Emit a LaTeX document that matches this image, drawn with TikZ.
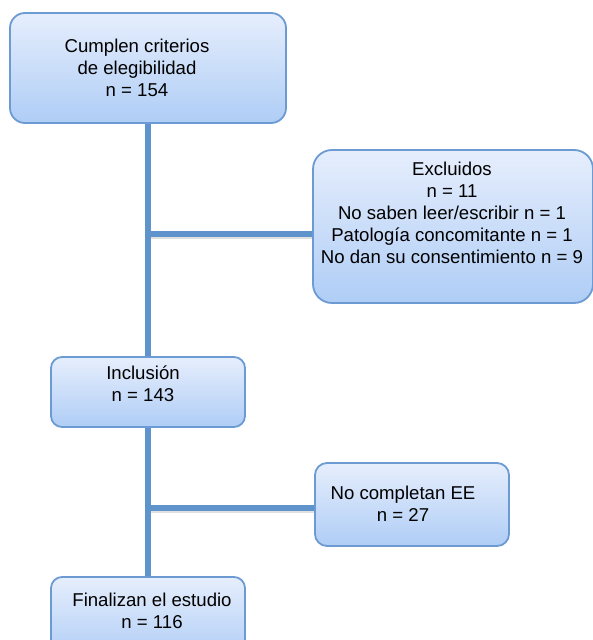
\documentclass[tikz,border=0pt]{standalone}
\usepackage{fontspec}
\setmainfont{Liberation Sans}
\definecolor{linec}{HTML}{5E93CC}
\definecolor{borderc}{HTML}{6B9BD2}
\definecolor{topc}{HTML}{E6EEFC}
\definecolor{botc}{HTML}{AFCDF6}
\begin{document}
\begin{tikzpicture}[x=1pt,y=-1pt,
  box/.style={draw=borderc, line width=1.8pt, rounded corners=12pt, top color=topc, bottom color=botc, inner sep=0pt},
  txt/.style={align=center, inner sep=0pt, font=\fontsize{18.6}{22}\selectfont},
  conn/.style={draw=linec, line width=5.5pt},
  shadowc/.style={draw=black!12, line width=3pt}]
\useasboundingbox (0,0) rectangle (593,640);
\clip (0,0) rectangle (593,640);
% boxes
\node[box, rounded corners=15pt, minimum width=276pt, minimum height=110pt] (b1) at (148,68) {};
\node[box, rounded corners=19pt, minimum width=280pt, minimum height=153pt] (b2) at (453,226.5) {};
\node[box, rounded corners=11pt, minimum width=194pt, minimum height=70pt] (b3) at (148,392) {};
\node[box, rounded corners=12pt, minimum width=194pt, minimum height=83pt] (b4) at (412,504.5) {};
\node[box, rounded corners=11pt, minimum width=194pt, minimum height=82pt] (b5) at (148,618) {};
% junctions
\coordinate (j1) at (148,234);
\coordinate (j2) at (148,508);
% shadows
\draw[shadowc] ([yshift=-3pt]j1) -- ([yshift=-3pt]j1 -| b2.west);
\draw[shadowc] ([yshift=-3pt]j2) -- ([yshift=-3pt]j2 -| b4.west);
% connectors
\draw[conn] (b1.south) -- (b3.north);
\draw[conn] (b3.south) -- (b5.north);
\draw[conn] ([xshift=-2.75pt]j1) -- (j1 -| b2.west);
\draw[conn] ([xshift=-2.75pt]j2) -- (j2 -| b4.west);
% texts
\node[txt] (t1) at (137,68) {Cumplen criterios\\de elegibilidad\\n = 154};
\node[txt] (t2) at (452,213) {Excluidos\\n = 11\\No saben leer/escribir n = 1\\Patología concomitante n = 1\\No dan su consentimiento n = 9};
\node[txt] (t3) at (143,384) {Inclusión\\n = 143};
\node[txt] (t4) at (403,504) {No completan EE\\n = 27};
\node[txt] (t5) at (152,611) {Finalizan el estudio\\n = 116};
\end{tikzpicture}
\end{document}
